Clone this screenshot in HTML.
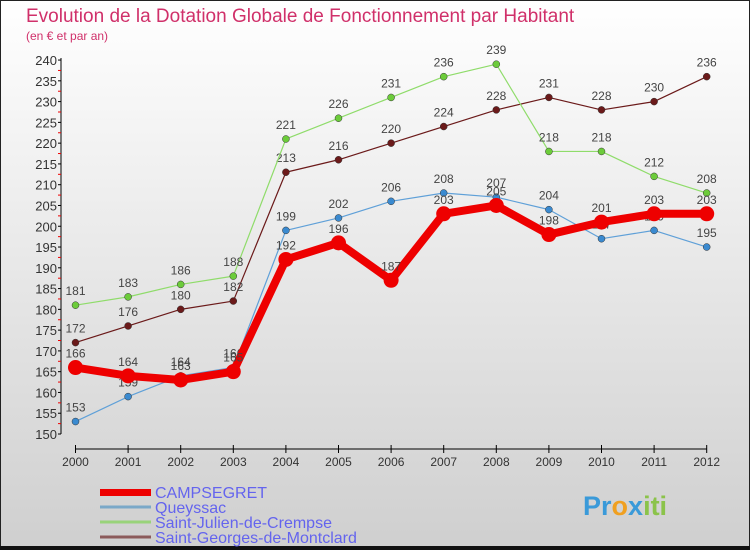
<!DOCTYPE html>
<html><head><meta charset="utf-8"><style>
body{margin:0}
#wrap{position:relative;width:750px;height:550px;overflow:hidden;font-family:"Liberation Sans","DejaVu Sans",sans-serif}
</style></head><body>
<div id="wrap">
<svg id="svg" width="750" height="550" xmlns="http://www.w3.org/2000/svg">
<defs><linearGradient id="bg" x1="0" y1="0" x2="0" y2="1"><stop offset="0" stop-color="#ffffff"/><stop offset="1" stop-color="#cfcfcf"/></linearGradient></defs>
<rect x="0.5" y="0.5" width="749" height="549" fill="url(#bg)" stroke="#222" stroke-width="1"/>
<rect x="0" y="546" width="750" height="4" fill="#111"/>
<text x="26" y="22" font-size="19" fill="#d0306a">Evolution de la Dotation Globale de Fonctionnement par Habitant</text>
<text x="26" y="40" font-size="12" fill="#d0306a">(en € et par an)</text>
<g id="axes"></g>
<g id="series"></g>
<g id="legend"></g>
<text x="583" y="515" font-size="27" font-weight="bold" fill="#3a9ad9">Pr<tspan fill="#f0a020">o</tspan><tspan fill="#3a9ad9">x</tspan><tspan fill="#8bc34a">iti</tspan></text>
</svg>
</div>
<script>
const years=[2000,2001,2002,2003,2004,2005,2006,2007,2008,2009,2010,2011,2012];
const campsegret=[166,164,163,165,192,196,187,203,205,198,201,203,203];
const queyssac=[153,159,164,166,199,202,206,208,207,204,197,199,195];
const saintJulien=[181,183,186,188,221,226,231,236,239,218,218,212,208];
const saintGeorges=[172,176,180,182,213,216,220,224,228,231,228,230,236];
const yTicks=[150,155,160,165,170,175,180,185,190,195,200,205,210,215,220,225,230,235,240];
const NS="http://www.w3.org/2000/svg";
function xS(i){return 75.5+i*52.6;}
function yS(v){return 434-(v-150)*4.155;}
function mk(tag,attrs,parent,txt){const e=document.createElementNS(NS,tag);for(const k in attrs)e.setAttribute(k,attrs[k]);if(txt!==undefined)e.textContent=txt;parent.appendChild(e);return e;}
const axes=document.getElementById('axes');
let a=mk('line',{x1:61,y1:yS(240)-2,x2:61,y2:yS(150),stroke:'#000'},axes);

yTicks.forEach(v=>{
 mk('line',{x1:58,x2:61,y1:yS(v),y2:yS(v),stroke:'#000'},axes);
 const t=mk('text',{x:57,y:yS(v)+5,'font-size':13,'text-anchor':'end',fill:'#333'},axes,v);
 
 
 if(v<240){mk('line',{x1:58,x2:61,y1:yS(v+2.5),y2:yS(v+2.5),stroke:'#e00'},axes);}
});
const xa=mk('line',{x1:xS(0),x2:xS(12),y1:449,y2:449,stroke:'#000'},axes);

years.forEach((y,i)=>{
 mk('line',{x1:xS(i),x2:xS(i),y1:445,y2:453,stroke:'#000'},axes);
 const t=mk('text',{x:xS(i),y:466,'font-size':12,'text-anchor':'middle',fill:'#333'},axes,y);
 
 
});
const series=[
 {name:'Saint-Georges-de-Montclard',vals:saintGeorges,color:'#6b1a1a',w:1.2,r:3.5,leg:'#8b5a5a'},
 {name:'Saint-Julien-de-Crempse',vals:saintJulien,color:'#8fdc6a',w:1.2,r:3.5,fc:'#6ccc3a',leg:'#99d37a'},
 {name:'Queyssac',vals:queyssac,color:'#5fa0d8',w:1.2,r:3.5,fc:'#3a8ad0',leg:'#7aa8c8'},
 {name:'CAMPSEGRET',vals:campsegret,color:'#ee0000',w:8,r:7.5,leg:'#ee0000'}
];
const sg=document.getElementById('series');
series.forEach(s=>{
 const g=mk('g',{},sg);
 
 
 const pts=s.vals.map((v,i)=>xS(i)+','+yS(v)).join(' ');
 mk('polyline',{points:pts,fill:'none',stroke:s.color,'stroke-width':s.w,'stroke-linejoin':'round'},g);
 s.vals.forEach((v,i)=>{
  const c=mk('circle',{cx:xS(i),cy:yS(v),r:s.r,fill:s.fc||s.color,stroke:'#333','stroke-width':s.w>2?0:0.5},g);
  
  
  const t=mk('text',{x:xS(i),y:yS(v)-10,'font-size':12,'text-anchor':'middle',fill:'#444'},g,v);
  
  
 });
});
const lg=document.getElementById('legend');
const legOrder=[series[3],series[2],series[1],series[0]];
legOrder.forEach((s,i)=>{
 const y=492+i*15;
 const g=mk('g',{},lg);
 
 
 mk('rect',{x:100,y:y-(i==0?3:1.5),width:51,height:i==0?7:3,fill:s.leg},g);
 mk('text',{x:155,y:y+6,'font-size':16,fill:'#6464ee'},g,s.name);
});
</script>
</body></html>
